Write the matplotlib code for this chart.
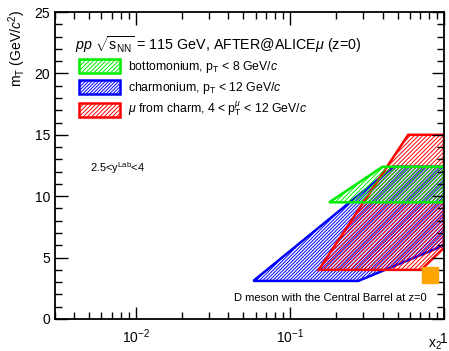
import matplotlib
matplotlib.use("Agg")
import matplotlib.pyplot as plt
from matplotlib.patches import Polygon
from matplotlib.ticker import FixedLocator, NullFormatter
import numpy as np

plt.rcParams["font.family"] = ["Liberation Sans", "DejaVu Sans"]
plt.rcParams["mathtext.fontset"] = "custom"
plt.rcParams["mathtext.rm"] = "Liberation Sans"
plt.rcParams["mathtext.it"] = "Liberation Sans:italic"
plt.rcParams["mathtext.sf"] = "Liberation Sans"
plt.rcParams["hatch.linewidth"] = 0.7

# acceptance regions (x2, mT in GeV/c^2)
bottomonium_x = [0.18, 0.40, 1.0, 1.0]
bottomonium_m = [9.5, 12.4, 12.4, 9.5]

charmonium_x = [0.058, 0.278, 1.0, 1.0, 0.47]
charmonium_m = [3.1, 3.1, 6.0, 12.4, 12.4]

muon_x = [0.154, 0.71, 1.0, 1.0, 0.586]
muon_m = [4.0, 4.0, 5.8, 15.0, 15.0]

dmeson_x = [0.81]
dmeson_m = [3.55]

labels = [
    r"bottomonium, p$_{\rm T}$ < 8 GeV/$\it{c}$",
    r"charmonium, p$_{\rm T}$ < 12 GeV/$\it{c}$",
    r"$\mu$ from charm, 4 < p$_{\rm T}^{\mu}$ < 12 GeV/$\it{c}$",
]

fig = plt.figure(figsize=(4.49, 3.51), dpi=100)
ax = fig.add_axes([55 / 449, 1 - 319 / 351, 389 / 449, 307 / 351])
ax.set_xscale("log")
ax.set_xlim(3e-3, 1)
ax.set_ylim(0, 25)


def region(xs, ms, color, hatch):
    p = Polygon(np.column_stack([xs, ms]), closed=True, facecolor="none",
                edgecolor=color, hatch=hatch, lw=1.8, joinstyle="miter")
    ax.add_patch(p)
    return p


p_blue = region(charmonium_x, charmonium_m, "#0000ff", "//////////")
p_red = region(muon_x, muon_m, "#ff0000", "////////")
p_green = region(bottomonium_x, bottomonium_m, "#00ee00", "////////")

ax.plot(dmeson_x, dmeson_m, "s", color="#ffa500", ms=11, mec="#ffa500")

fs_leg = 8.8
leg = ax.legend([p_green, p_blue, p_red], labels, loc="upper left",
                bbox_to_anchor=(0.062, 0.847), frameon=False, fontsize=fs_leg,
                handlelength=41 / 12.2, handleheight=17 / 12.2,
                handletextpad=0.62, labelspacing=0.38, borderpad=0,
                borderaxespad=0)

ax.text(0.052, 0.893, r"$\it{pp}$ $\sqrt{\rm s_{NN}}$ = 115 GeV, AFTER@ALICE$\mu$ (z=0)",
        transform=ax.transAxes, fontsize=10.3, va="center", ha="left")
ax.text(0.09, 0.49, r"2.5<y$^{\rm Lab}$<4", transform=ax.transAxes,
        fontsize=8, va="center")
ax.text(0.956, 0.068, "D meson with the Central Barrel at z=0",
        transform=ax.transAxes, fontsize=8, ha="right", va="center")

# axis ticks, ROOT style (inside, all four sides)
ax.set_xticks([0.01, 0.1, 1])
ax.set_xticklabels([r"$10^{-2}$", r"$10^{-1}$", "1"])
ax.xaxis.set_minor_locator(FixedLocator(
    [k * 10.0 ** e for e in (-3, -2, -1) for k in range(2, 10) if k * 10.0 ** e >= 3e-3]))
ax.xaxis.set_minor_formatter(NullFormatter())
ax.set_yticks([0, 5, 10, 15, 20, 25])
ax.yaxis.set_minor_locator(FixedLocator(np.arange(0, 26, 1)))
ax.tick_params(which="both", direction="in", top=True, right=True,
               labelsize=10, width=1)
ax.tick_params(which="major", length=9)
ax.tick_params(which="minor", length=5)
ax.tick_params(axis="x", pad=6)
for s in ax.spines.values():
    s.set_linewidth(1.3)
labs = ax.get_xticklabels()
labs[-1].set_y(-0.015)
labs[-1].set_x(1.02)

fig.text(17 / 449, 1 - 10 / 351, r"m$_{\rm T}$ (GeV/$\it{c}^{2}$)", fontsize=10,
         rotation=90, ha="center", va="top")
ax.text(0.958, -0.085, r"x$_2$", transform=ax.transAxes, fontsize=10,
        ha="left", va="center")

fig.savefig("out.png", dpi=100)
